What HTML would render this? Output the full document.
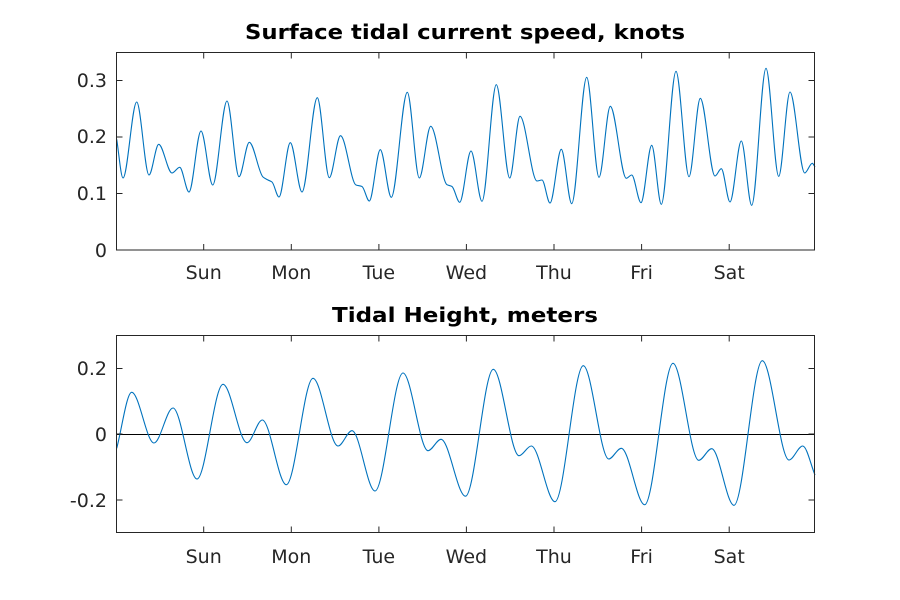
<!DOCTYPE html>
<html><head><meta charset="utf-8"><style>
html,body{margin:0;padding:0;background:#fff}
svg{display:block}
text{font-family:"DejaVu Sans","Liberation Sans",sans-serif;fill:#262626}
</style></head><body>
<svg id="s" width="900" height="600" viewBox="0 0 900 600" xmlns="http://www.w3.org/2000/svg">
<rect width="900" height="600" fill="#fff"/>
<text x="465" y="39" font-size="20" font-weight="bold" text-anchor="middle" textLength="440" lengthAdjust="spacingAndGlyphs" style="fill:#000">Surface tidal current speed, knots</text>
<path id="p1" fill="none" stroke="#0072BD" stroke-width="1.1"/>
<rect x="116.5" y="52.5" width="698" height="197.5" fill="none" stroke="#262626" stroke-width="1"/>
<g stroke="#262626" stroke-width="1" id="t1"></g>
<g font-size="19" text-anchor="end">
<text x="107" y="87">0.3</text><text x="107" y="143">0.2</text><text x="107" y="200">0.1</text><text x="107" y="257">0</text>
</g>
<g font-size="19" text-anchor="middle" id="l1"></g>
<text x="465" y="322" font-size="20" font-weight="bold" text-anchor="middle" textLength="266" lengthAdjust="spacingAndGlyphs" style="fill:#000">Tidal Height, meters</text>
<line x1="116.5" y1="434.5" x2="814.5" y2="434.5" stroke="#000" stroke-width="1"/>
<path id="p2" fill="none" stroke="#0072BD" stroke-width="1.1"/>
<rect x="116.5" y="335.5" width="698" height="197" fill="none" stroke="#262626" stroke-width="1"/>
<g stroke="#262626" stroke-width="1" id="t2"></g>
<g font-size="19" text-anchor="end">
<text x="107" y="375">0.2</text><text x="107" y="441">0</text><text x="107" y="507">-0.2</text>
</g>
<g font-size="19" text-anchor="middle" id="l2"></g>
</svg>
<script>
(function(){
var NS="http://www.w3.org/2000/svg";
function mono(p){
 var n=p.length,d=[],m=[],i;
 for(i=0;i<n-1;i++)d.push((p[i+1][1]-p[i][1])/(p[i+1][0]-p[i][0]));
 m[0]=d[0];m[n-1]=d[n-2];
 for(i=1;i<n-1;i++){ if(d[i-1]*d[i]<=0)m[i]=0; else { var w1=2*(p[i+1][0]-p[i][0])+(p[i][0]-p[i-1][0]),w2=(p[i+1][0]-p[i][0])+2*(p[i][0]-p[i-1][0]); m[i]=(w1+w2)/(w1/d[i-1]+w2/d[i]);} }
 var s="M"+p[0][0]+","+p[0][1];
 for(i=0;i<n-1;i++){var h=p[i+1][0]-p[i][0];
  s+=" C"+(p[i][0]+h/3).toFixed(2)+","+(p[i][1]+m[i]*h/3).toFixed(2)+" "+(p[i+1][0]-h/3).toFixed(2)+","+(p[i+1][1]-m[i+1]*h/3).toFixed(2)+" "+p[i+1][0]+","+p[i+1][1];}
 return s;}
var spd=[[116.7,139.3],[123,178],[136.7,102],[149,175],[158.7,144.3],[172,173],[179.7,167.3],[189,192],[201,131],[212.7,185],[227,101],[239,176.7],[249.3,142.3],[263,177],[268,180],[272,182],[279,197],[290.3,142.7],[302,192],[317.3,97.7],[329.3,177.7],[340.5,135.7],[356,185],[362,186.5],[369.3,201],[380.3,149.7],[391.3,197.3],[407.3,92.3],[419.3,178],[430.7,126.3],[447,184.7],[452,186.5],[459.7,202.3],[471,151],[482,201.3],[496.3,84.7],[509.7,178],[520,116.3],[537,181],[542,180],[550,203],[561.3,149.3],[571.7,203.7],[586.7,77.3],[599,177.3],[610.3,106.3],[626.3,178.3],[631.7,175],[641,202.7],[651.7,145.3],[661.3,204.3],[676,71.3],[689,176.7],[700.3,98.3],[715,176],[721.3,168.7],[730,202],[741.3,141],[751.7,205.3],[766,68.3],[778.7,176.3],[790,92],[804.7,173],[812.3,163.3],[815,167]];
var hgt=[[116.7,448.3],[131.7,392.3],[154,443],[173,408],[197,479],[223,384.3],[247,442.7],[262.3,420],[286.3,484.7],[313,378.3],[338,446],[352,430.7],[375,491],[403,373],[428,450.7],[441,439.3],[465.5,496.2],[493.3,369.3],[519,455.7],[531.3,446],[555,501.7],[583.3,365.7],[608.7,459],[621.3,448.3],[644.7,504.7],[673,363.3],[698.7,460.3],[711.7,448.7],[734,505.3],[762.3,360.7],[789,460],[802.7,446],[815,475]];
document.getElementById("p1").setAttribute("d",mono(spd));
document.getElementById("p2").setAttribute("d",mono(hgt));
var days=["Sun","Mon","Tue","Wed","Thu","Fri","Sat"];
function ticks(gid,lid,y0,y1,ly,yt){
 var g=document.getElementById(gid),l=document.getElementById(lid);
 function ln(a,b,c,e){var q=document.createElementNS(NS,"line");q.setAttribute("x1",a);q.setAttribute("y1",b);q.setAttribute("x2",c);q.setAttribute("y2",e);g.appendChild(q);}
 for(var i=0;i<7;i++){var x=(203.7+87.58*i).toFixed(1);
  ln(x,y1,x,y1-6);ln(x,y0,x,y0+6);
  var t=document.createElementNS(NS,"text");t.setAttribute("x",x);t.setAttribute("y",ly);t.textContent=days[i];l.appendChild(t);}
 yt.forEach(function(y){ln(116.5,y,122.5,y);ln(814.5,y,808.5,y);});
}
ticks("t1","l1",52.5,250,279,[80.5,137,193.5]);
ticks("t2","l2",335.5,532.5,563,[368.5,434,500]);
})();
</script>
</body></html>
